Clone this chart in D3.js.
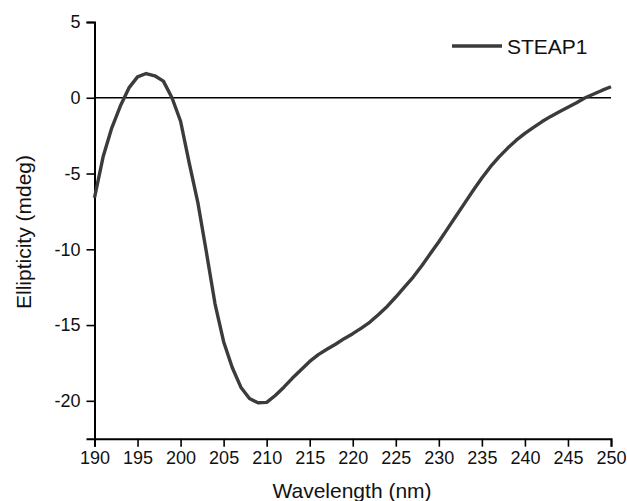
<!DOCTYPE html>
<html>
<head>
<meta charset="utf-8">
<script src="https://cdn.jsdelivr.net/npm/d3@7"></script>
<style>
  body { margin: 0; background: #fff; }
  svg { display: block; font-family: "Liberation Sans", Arial, sans-serif; }
</style>
</head>
<body>
<svg id="cd" width="627" height="501"></svg>
<script>
// wavelength (nm) and ellipticity (mdeg)
var wavelengths = d3.range(190, 251);
var steap1 = [
  -6.6, -3.9, -2.0, -0.55, 0.65, 1.38, 1.6, 1.45, 1.1, 0.0,
  -1.55, -4.3, -6.9, -10.2, -13.6, -16.1, -17.8, -19.1, -19.85, -20.13,
  -20.1, -19.65, -19.1, -18.5, -17.95, -17.4, -16.95, -16.6, -16.27, -15.9,
  -15.57, -15.2, -14.8, -14.3, -13.77, -13.15, -12.5, -11.85, -11.1, -10.3,
  -9.5, -8.65, -7.8, -6.95, -6.1, -5.3, -4.55, -3.9, -3.32, -2.8,
  -2.35, -1.95, -1.57, -1.23, -0.92, -0.63, -0.33, 0.0, 0.25, 0.5, 0.73
];
var xTicks = [190, 195, 200, 205, 210, 215, 220, 225, 230, 235, 240, 245, 250];
var yTicks = [5, 0, -5, -10, -15, -20];
var seriesName = "STEAP1";

var svg = d3.select("#cd");

var x = d3.scaleLinear().domain([190, 250]).range([94.5, 611]);
var y = d3.scaleLinear().domain([-22.5, 5]).range([438.7, 22]);

var lineColor = "#3b3b3b";

// zero line
svg.append("line")
  .attr("x1", x(190)).attr("x2", x(250))
  .attr("y1", y(0)).attr("y2", y(0))
  .attr("stroke", "#000")
  .attr("stroke-width", 1.6);

// axes
var xAxis = svg.append("g")
  .attr("transform", "translate(0," + y(-22.5) + ")")
  .call(d3.axisBottom(x).tickValues(xTicks).tickFormat(function(d) { return String(d); })
    .tickSizeOuter(0).tickSize(8).tickPadding(5));

var yAxis = svg.append("g")
  .attr("transform", "translate(" + x(190) + ",0)")
  .call(d3.axisLeft(y).tickValues(yTicks).tickFormat(function(d) { return String(d); })
    .tickSizeOuter(0).tickSize(8).tickPadding(6));

[xAxis, yAxis].forEach(function(a) {
  a.select(".domain").attr("stroke", "#000").attr("stroke-width", 2);
  a.selectAll(".tick line").attr("stroke", "#000").attr("stroke-width", 1.6);
  a.selectAll(".tick text")
    .attr("fill", "#111")
    .style("font-size", "18px")
    .style("font-family", "'Liberation Sans', Arial, sans-serif");
});

// curve
var data = wavelengths.map(function(w, i) { return { w: w, v: steap1[i] }; });

var line = d3.line()
  .x(function(d) { return x(d.w); })
  .y(function(d) { return y(d.v); });

svg.append("path")
  .datum(data)
  .attr("fill", "none")
  .attr("stroke", lineColor)
  .attr("stroke-width", 3.4)
  .attr("stroke-linejoin", "round")
  .attr("d", line);

// axis titles
svg.append("text")
  .attr("x", 352)
  .attr("y", 498)
  .attr("text-anchor", "middle")
  .style("font-size", "21px")
  .attr("fill", "#111")
  .text("Wavelength (nm)");

svg.append("text")
  .attr("transform", "translate(31," + 232 + ") rotate(-90)")
  .attr("text-anchor", "middle")
  .style("font-size", "21px")
  .attr("fill", "#111")
  .text("Ellipticity (mdeg)");

// legend
var legend = svg.append("g").attr("transform", "translate(452,46)");
legend.append("line")
  .attr("x1", 0).attr("x2", 50)
  .attr("y1", 0).attr("y2", 0)
  .attr("stroke", lineColor)
  .attr("stroke-width", 3.4);
legend.append("text")
  .attr("x", 55)
  .attr("y", 7.5)
  .style("font-size", "21px")
  .attr("fill", "#111")
  .text(seriesName);
</script>
</body>
</html>
